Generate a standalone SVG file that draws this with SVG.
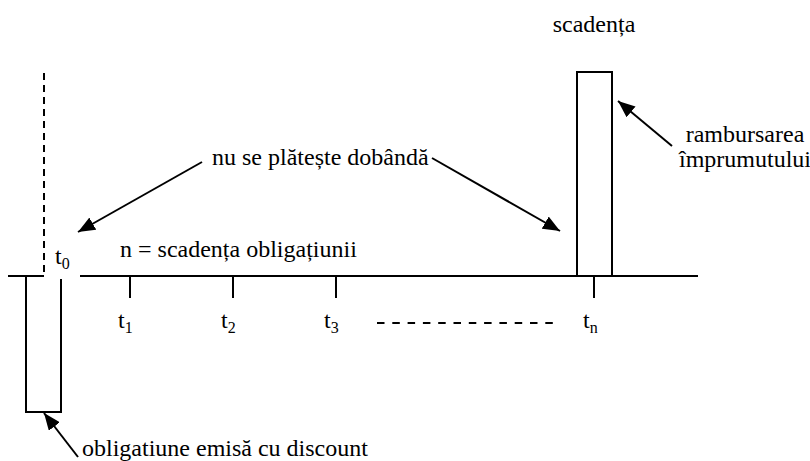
<svg xmlns="http://www.w3.org/2000/svg" width="810" height="461" viewBox="0 0 810 461">
<style>
.t{font-family:"Liberation Serif",Tinos,"Times New Roman","Noto Serif","DejaVu Serif",serif;font-size:24px;fill:#000}
.sub{font-size:16px}
.ln{stroke:#000;stroke-width:2;fill:none}
.ar{stroke:#000;stroke-width:2;fill:none;marker-end:url(#ah)}
</style>
<defs>
<marker id="ah" markerUnits="userSpaceOnUse" markerWidth="18" markerHeight="14" refX="17" refY="7" orient="auto">
<path d="M0,0 L17,7 L0,14 z" fill="#000"/>
</marker>
</defs>
<rect width="810" height="461" fill="#fff"/>
<g id="axis">
<line class="ln" x1="8" y1="276" x2="44" y2="276"/>
<line class="ln" x1="80" y1="276" x2="698" y2="276"/>
<line class="ln" x1="44" y1="73" x2="44" y2="276" stroke-dasharray="7 5"/>
<line class="ln" x1="130" y1="276" x2="130" y2="298"/>
<line class="ln" x1="233" y1="276" x2="233" y2="298"/>
<line class="ln" x1="336" y1="276" x2="336" y2="298"/>
<line class="ln" x1="594" y1="276" x2="594" y2="298"/>
<line x1="377" y1="323" x2="553" y2="323" stroke="#000" stroke-width="2" stroke-dasharray="7.5 7.8"/>
</g>
<g id="discount-bar">
<path class="ln" d="M26,276 V412 H61 V279"/>
</g>
<g id="maturity-bar">
<rect class="ln" x="577" y="72" width="35" height="204"/>
</g>
<g id="labels" class="t" font-family="'Liberation Serif', 'Times New Roman', serif" font-size="24">
<text x="55" y="264">t<tspan class="sub" dy="5">0</tspan></text>
<text x="118" y="328">t<tspan class="sub" dy="5">1</tspan></text>
<text x="221" y="328">t<tspan class="sub" dy="5">2</tspan></text>
<text x="324" y="328">t<tspan class="sub" dy="5">3</tspan></text>
<text x="583" y="328">t<tspan class="sub" dy="5">n</tspan></text>
<text x="120" y="257">n = scadența obligațiunii</text>
<text x="212" y="165">nu se plătește dobândă</text>
<text x="594" y="32" text-anchor="middle">scadența</text>
<text x="745" y="142" text-anchor="middle">rambursarea</text>
<text x="745" y="167" text-anchor="middle">împrumutului</text>
<text x="82" y="456">obligatiune emisă cu discount</text>
</g>
<g id="connectors">
<line class="ar" x1="202" y1="162" x2="78" y2="232"/>
<line class="ar" x1="432" y1="158" x2="560" y2="231"/>
<line class="ar" x1="672" y1="146" x2="618" y2="101"/>
<line class="ar" x1="78" y1="457" x2="44" y2="413"/>
</g>
</svg>
